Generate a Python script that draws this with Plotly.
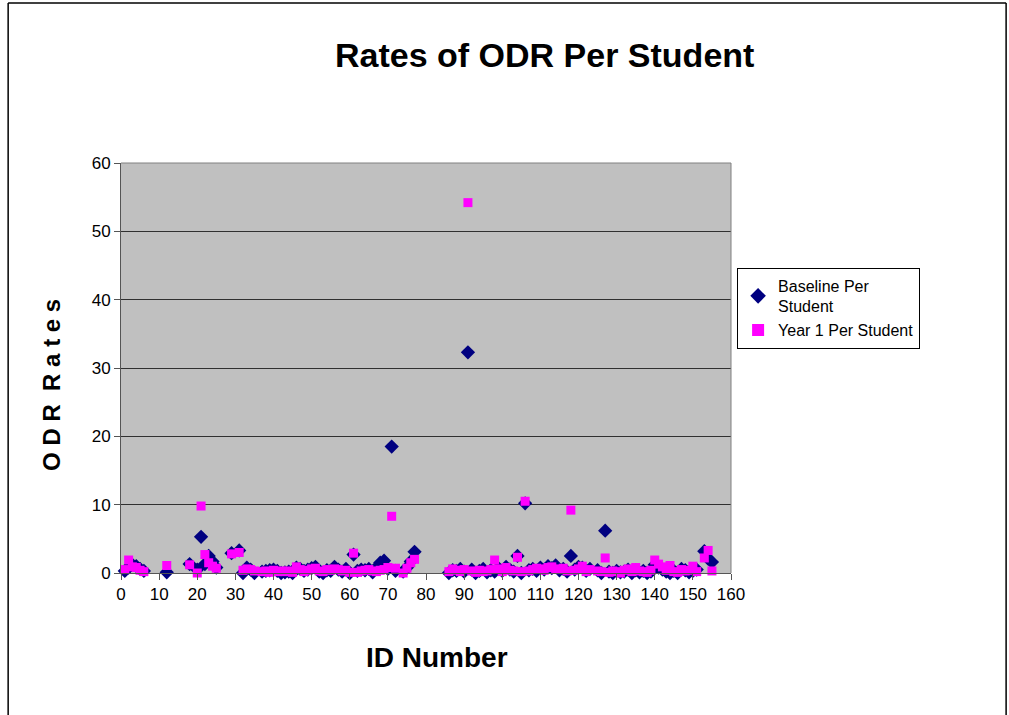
import plotly.graph_objects as go

# ---------------------------------------------------------------------------
# Data
# ---------------------------------------------------------------------------

ids = [1, 2, 3, 4, 5, 6, 12, 18, 20, 21, 22, 23, 24, 25, 29, 31, 32, 33, 34, 35,
       37, 38, 39, 40, 41, 42, 43, 44, 45, 46, 47, 48, 49, 50, 51, 52, 53, 54, 55, 56,
       57, 58, 59, 60, 61, 62, 63, 64, 65, 66, 67, 68, 69, 70, 71, 72, 74, 75, 76, 77,
       86, 87, 88, 89, 90, 91, 92, 93, 94, 95, 96, 97, 98, 99, 100, 101, 102, 103, 104, 105,
       106, 107, 108, 109, 110, 111, 112, 113, 114, 115, 116, 117, 118, 119, 120, 121, 122, 123, 125, 126,
       127, 128, 129, 130, 131, 132, 133, 134, 135, 136, 137, 138, 139, 140, 141, 142, 143, 144, 145, 146,
       147, 148, 149, 150, 151, 153, 154, 155]

baseline = [0.3, 0.8, 1.2, 1.0, 0.6, 0.3, 0.1, 1.3, 0.5, 5.3, 1.3, 2.5, 1.7, 0.8, 2.9, 3.3, 0.0, 0.8, 0.5, 0.0,
            0.2, 0.3, 0.4, 0.5, 0.3, 0.0, 0.1, 0.2, 0.0, 0.8, 0.6, 0.3, 0.5, 0.7, 0.9, 0.2, 0.0, 0.4, 0.3, 0.9,
            0.5, 0.2, 0.6, 0.0, 2.7, 0.3, 0.5, 0.4, 0.6, 0.1, 0.8, 1.5, 1.8, 0.6, 18.5, 0.3, 0.2, 0.8, 1.7, 3.1,
            0.0, 0.4, 0.3, 0.6, 0.2, 32.3, 0.5, 0.0, 0.3, 0.6, 0.1, 0.4, 0.2, 0.7, 0.3, 0.9, 0.5, 0.2, 2.5, 0.0,
            10.2, 0.4, 0.6, 0.3, 0.8, 0.5, 1.0, 0.7, 1.1, 0.4, 0.6, 0.2, 2.5, 0.5, 0.9, 0.8, 0.3, 0.6, 0.4, 0.0,
            6.2, 0.2, 0.0, 0.3, 0.1, 0.2, 0.5, 0.0, 0.4, 0.1, 0.3, 0.0, 0.2, 1.2, 0.8, 0.5, 0.2, 0.0, 0.3, 0.0,
            0.6, 0.4, 0.1, 0.3, 0.5, 3.2, 2.1, 1.6]

year1 = [0.5, 1.9, 0.9, 0.8, 0.4, 0.2, 1.1, 1.2, 0.0, 9.8, 2.7, 1.5, 1.0, 0.7, 2.8, 3.0, 0.4, 0.6, 0.5, 0.3,
         0.2, 0.3, 0.1, 0.4, 0.2, 0.3, 0.2, 0.3, 0.1, 0.9, 0.5, 0.2, 0.4, 0.6, 0.7, 0.3, 0.2, 0.5, 0.4, 0.6,
         0.5, 0.3, 0.4, 0.1, 2.9, 0.1, 0.3, 0.4, 0.5, 0.3, 0.2, 0.4, 0.5, 0.8, 8.3, 0.7, 0.0, 0.7, 1.5, 2.0,
         0.2, 0.6, 0.4, 0.2, 0.5, 54.2, 0.3, 0.1, 0.4, 0.2, 0.3, 0.5, 1.9, 0.6, 0.2, 0.8, 0.4, 0.3, 2.3, 0.2,
         10.5, 0.3, 0.5, 0.7, 0.6, 0.4, 0.8, 0.9, 0.6, 0.5, 0.7, 0.3, 9.2, 0.4, 0.6, 1.0, 0.2, 0.5, 0.3, 0.2,
         2.2, 0.1, 0.3, 0.2, 0.0, 0.4, 0.6, 0.2, 0.8, 0.3, 0.2, 0.1, 0.4, 1.9, 1.3, 0.9, 0.4, 1.1, 0.2, 0.1,
         0.5, 0.3, 0.4, 1.0, 0.2, 2.2, 3.3, 0.3]

y_ticks = [0, 10, 20, 30, 40, 50, 60]
x_ticks = list(range(0, 161, 10))

# ---------------------------------------------------------------------------
# Figure
# ---------------------------------------------------------------------------

fig = go.Figure()
fig.add_trace(go.Scatter(
    x=ids, y=baseline, mode="markers", name="Baseline Per<br>Student",
    marker={"symbol": "diamond", "size": 11, "color": "#000080"},
    cliponaxis=False,
))
fig.add_trace(go.Scatter(
    x=ids, y=year1, mode="markers", name="Year 1 Per Student",
    marker={"symbol": "square", "size": 9, "color": "#FF00FF"},
    cliponaxis=False,
))

tick_font = {"family": "Liberation Sans, Arial", "size": 17, "color": "black"}

fig.update_layout(
    width=1009, height=715,
    margin={"l": 121, "r": 278, "t": 163, "b": 142},
    paper_bgcolor="white", plot_bgcolor="#C0C0C0",
    showlegend=True,
    legend={
        "x": 1.01, "y": 0.745, "xanchor": "left", "yanchor": "top",
        "bordercolor": "black", "borderwidth": 1, "bgcolor": "white",
        "font": {"family": "Liberation Sans, Arial", "size": 16, "color": "black"},
        "tracegroupgap": 0, "itemsizing": "constant",
    },
    xaxis={
        "range": [0, 160], "tickvals": x_ticks, "showgrid": False, "zeroline": False,
        "showline": True, "linecolor": "#555555", "linewidth": 1,
        "ticks": "outside", "ticklen": 6, "tickcolor": "#555555",
        "tickfont": tick_font,
    },
    yaxis={
        "range": [0, 60], "tickvals": y_ticks, "showgrid": True, "gridcolor": "#303030",
        "gridwidth": 1, "zeroline": False,
        "showline": True, "linecolor": "#555555", "linewidth": 1,
        "ticks": "outside", "ticklen": 6, "tickcolor": "#555555",
        "tickfont": tick_font,
    },
    annotations=[
        {"text": "<b>Rates of ODR Per Student</b>", "xref": "paper", "yref": "paper",
         "x": 0.695, "y": 1.263, "xanchor": "center", "yanchor": "middle", "showarrow": False,
         "font": {"family": "Liberation Sans Narrow, Arial Narrow, Liberation Sans", "size": 34, "color": "black"}},
        {"text": "<b>ID Number</b>", "xref": "paper", "yref": "paper",
         "x": 0.518, "y": -0.205, "xanchor": "center", "yanchor": "middle", "showarrow": False,
         "font": {"family": "Liberation Sans, Arial", "size": 28, "color": "black"}},
        {"text": "<b>O D R  R a t e s</b>", "xref": "paper", "yref": "paper",
         "x": -0.113, "y": 0.459, "xanchor": "center", "yanchor": "middle", "showarrow": False,
         "textangle": -90,
         "font": {"family": "Liberation Sans, Arial", "size": 24, "color": "black"}},
    ],
    shapes=[
        # plot-area top and right border
        {"type": "line", "xref": "paper", "yref": "paper", "x0": 1, "x1": 1, "y0": 0, "y1": 1,
         "line": {"color": "#808080", "width": 1}},
        {"type": "line", "xref": "paper", "yref": "paper", "x0": 0, "x1": 1, "y0": 1, "y1": 1,
         "line": {"color": "#808080", "width": 1}},
        # outer chart frame
        {"type": "line", "xref": "paper", "yref": "paper", "x0": -0.185, "x1": -0.185, "y0": -0.4, "y1": 1.39,
         "line": {"color": "black", "width": 1.5}},
        {"type": "line", "xref": "paper", "yref": "paper", "x0": -0.185, "x1": 1.451, "y0": 1.39, "y1": 1.39,
         "line": {"color": "black", "width": 1.5}},
        {"type": "line", "xref": "paper", "yref": "paper", "x0": 1.451, "x1": 1.451, "y0": -0.4, "y1": 1.39,
         "line": {"color": "black", "width": 1.5}},
    ],
)

# drop the page's default body margin so the figure sits at the window's corner
fig.write_html("out.html", config={"displayModeBar": False},
               post_script="document.body.style.margin = '0';")
